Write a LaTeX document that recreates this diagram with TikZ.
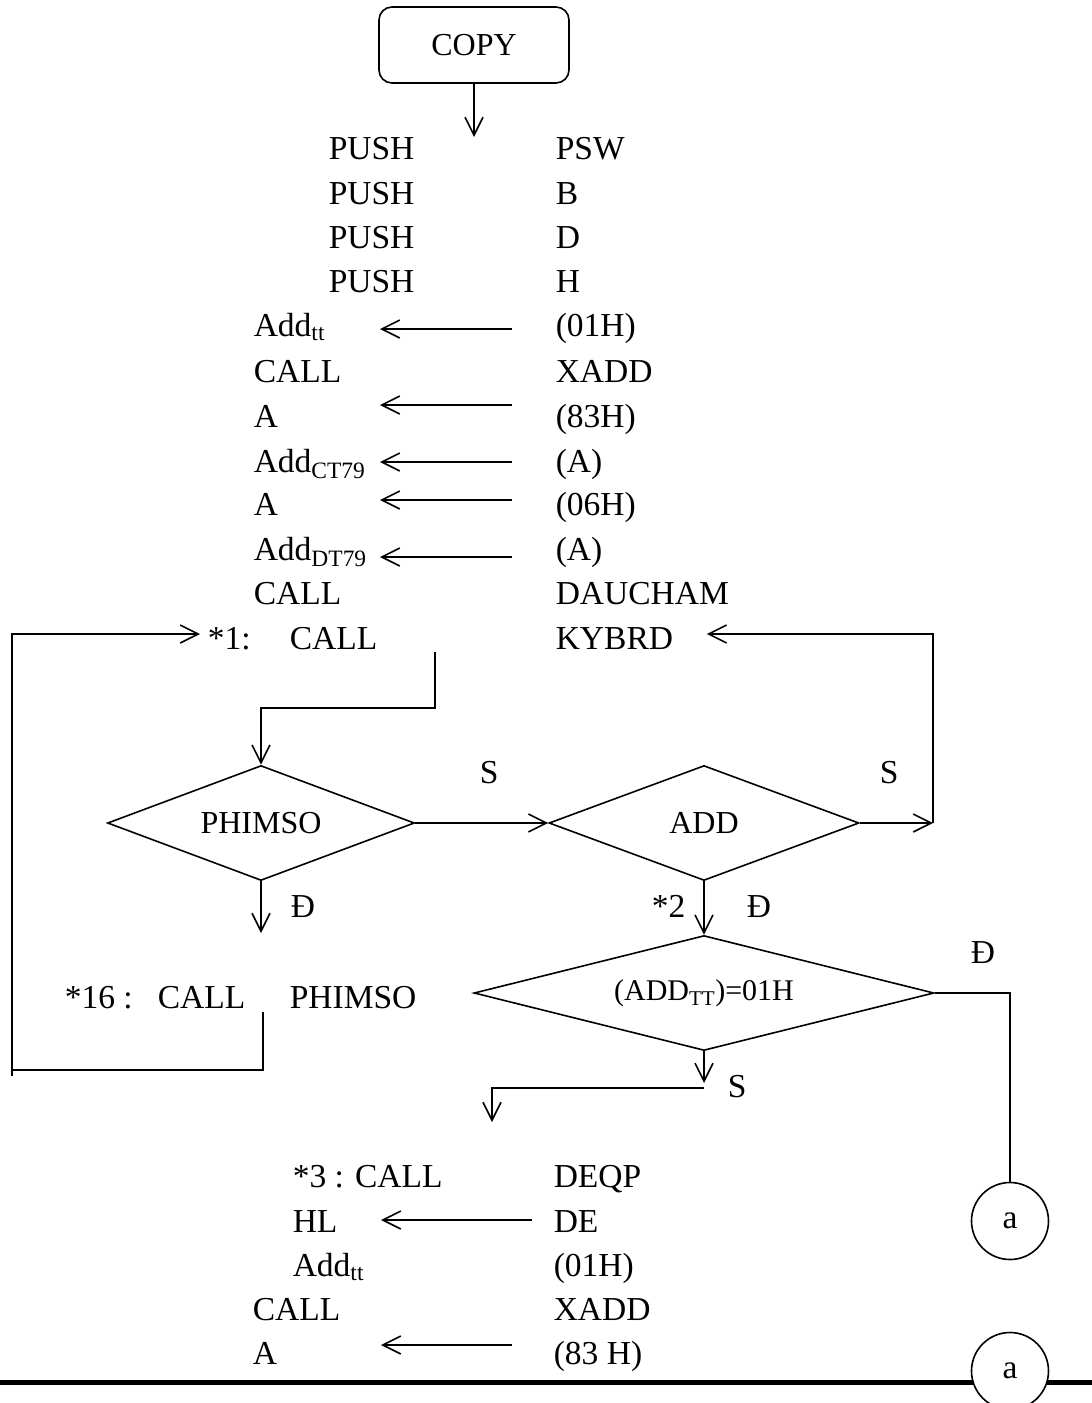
\documentclass[tikz,border=0pt]{standalone}
\usepackage{fontspec}
\setmainfont{Liberation Serif}
\usetikzlibrary{
    arrows.meta,
    shapes.geometric
}

\begin{document}
\begin{tikzpicture}[x=1pt,y=-1pt,line width=1.6pt,
    >={Straight Barb[length=18pt,width=18pt]},
    txt/.style={anchor=base west,inner sep=0pt,font=\fontsize{33.5}{40}\selectfont},
    startbox/.style={draw,rounded corners=13pt,minimum width=190pt,minimum height=76pt,font=\fontsize{32}{38}\selectfont},
    decision/.style={diamond,draw,inner sep=0pt,minimum height=115pt,font=\fontsize{32}{36}\selectfont},
    joint/.style={circle,draw,fill=white,minimum size=77pt,inner sep=0pt,font=\fontsize{33.5}{40}\selectfont}]

\useasboundingbox (0,0) rectangle (1092,1403);

% Start
\node[startbox] (copy) at (474,45) {COPY};
\coordinate (copyend) at (474,137);
\draw[->] (copy.south) -- (copyend);

% Save registers
\node[txt] (push1) at (328,159) {PUSH};
\node[txt] (psw) at (555,159) {PSW};
\node[txt] (push2) at (328,204) {PUSH};
\node[txt] (regb) at (555,204) {B};
\node[txt] (push3) at (328,248) {PUSH};
\node[txt] (regd) at (555,248) {D};
\node[txt] (push4) at (328,292) {PUSH};
\node[txt] (regh) at (555,292) {H};

% Loads
\node[txt] (addtt) at (253,336) {Add\textsubscript{tt}};
\node[txt] (v01h) at (555,336) {(01H)};
\draw[->] (v01h.west |- 0,329) ++(-43,0) -- ++(-132,0);
\node[txt] (call1) at (253,382) {CALL};
\node[txt] (xadd1) at (555,382) {XADD};
\node[txt] (rega1) at (253,427) {A};
\node[txt] (v83h) at (555,427) {(83H)};
\draw[->] (v83h.west |- 0,405) ++(-43,0) -- ++(-132,0);
\node[txt] (addct) at (253,472) {Add\textsubscript{CT79}};
\node[txt] (vrega1) at (555,472) {(A)};
\draw[->] (vrega1.west |- 0,462) ++(-43,0) -- ++(-132,0);
\node[txt] (rega2) at (253,515) {A};
\node[txt] (v06h) at (555,515) {(06H)};
\draw[->] (v06h.west |- 0,500) ++(-43,0) -- ++(-132,0);
\node[txt] (adddt) at (253,560) {Add\textsubscript{DT79}};
\node[txt] (vrega2) at (555,560) {(A)};
\draw[->] (vrega2.west |- 0,557) ++(-43,0) -- ++(-132,0);
\node[txt] (call2) at (253,604) {CALL};
\node[txt] (daucham) at (555,604) {DAUCHAM};

% Keyboard
\node[txt] (star1) at (207,649) {*1:};
\node[txt] (call3) at (289,649) {CALL};
\node[txt] (kybrd) at (555,649) {KYBRD};

% Decisions
\node[decision,minimum width=307pt,aspect=2.67] (phimso) at (261,823) {PHIMSO};
\node[decision,minimum width=310pt,aspect=2.7] (add) at (704,823) {ADD};
\node[decision,minimum width=460pt,aspect=4,font=\fontsize{30}{36}\selectfont] (ttchk) at (704,993) {(ADD\textsubscript{TT})=01H};

\coordinate (kyout) at (435,652);
\draw[->] (kyout) |- (phimso.north |- 0,708) -- (phimso.north);

\draw[->] (phimso.east) -- (add.west);
\node[txt] (s1) at (479,783) {S};

\coordinate (rloop) at (933,823);
\draw[->] (add.east) -- (rloop);
\node[txt] (s2) at (879,783) {S};
\draw[->] (rloop) |- ([xshift=33pt]kybrd.east |- 0,634);

\coordinate (phdown) at (261,933);
\draw[->] (phimso.south) -- (phdown);
\node[txt] (d1) at (290,917) {Đ};

\draw[->] (add.south) -- (ttchk.north);
\node[txt] (star2) at (651,917) {*2};
\node[txt] (d2) at (746,917) {Đ};

% Call PHIMSO and loop back
\node[txt] (star16) at (64,1008) {*16 :};
\node[txt] (call4) at (157,1008) {CALL};
\node[txt] (phimso2) at (289,1008) {PHIMSO};
\coordinate (lpcorner) at (12,1070);
\draw (call4.base east) ++(17,4) |- (lpcorner);
\draw[->] (lpcorner) ++(0,6) |- ([xshift=-7pt]star1.west |- 0,634);

% Connector a
\node[joint] (a1) at (1010,1221) {a};
\draw (ttchk.east) -| (a1.north);
\node[txt] (d3) at (970,963) {Đ};

\coordinate (sdown) at (704,1083);
\draw[->] (ttchk.south) -- (sdown);
\node[txt] (s3) at (727,1097) {S};
\coordinate (deqpin) at (492,1122);
\draw[->] (ttchk.south |- 0,1088) -| (deqpin);

% Second part
\node[txt] (star3) at (292,1187) {*3 : CALL};
\node[txt] (deqp) at (553,1187) {DEQP};
\node[txt] (reghl) at (292,1232) {HL};
\node[txt] (regde) at (553,1232) {DE};
\draw[->] (regde.west |- 0,1220) ++(-21,0) -- ++(-151,0);
\node[txt] (addtt2) at (292,1276) {Add\textsubscript{tt}};
\node[txt] (v01h2) at (553,1276) {(01H)};
\node[txt] (call5) at (252,1320) {CALL};
\node[txt] (xadd2) at (553,1320) {XADD};
\node[txt] (rega3) at (252,1364) {A};
\node[txt] (v83h2) at (553,1364) {(83 H)};
\draw[->] (v83h2.west |- 0,1345) ++(-41,0) -- ++(-131,0);

% Page rule
\coordinate (rulel) at (0,1382);
\coordinate (ruler) at (1092,1382);
\draw[line width=5pt] (rulel) -- (ruler);
\node[joint] (a2) at (1010,1371) {a};

\end{tikzpicture}
\end{document}
